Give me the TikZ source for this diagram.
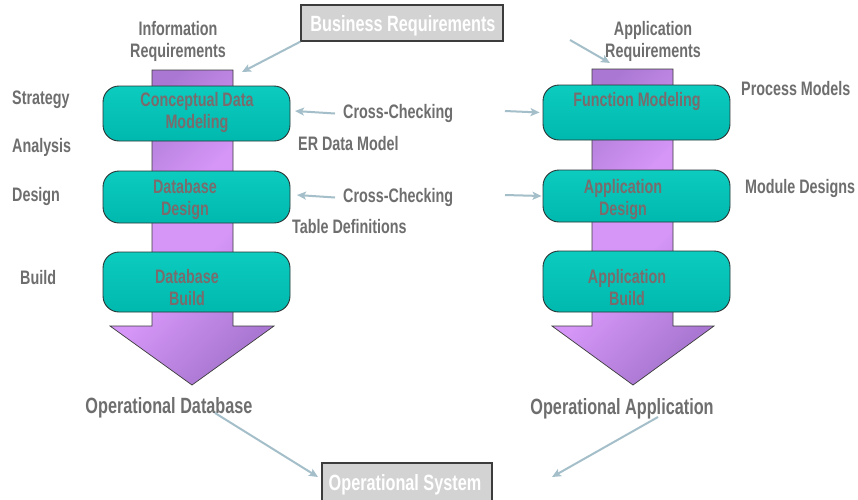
\documentclass[tikz,border=0pt]{standalone}
\usepackage{fontspec}
\setmainfont{Liberation Sans}[FakeStretch=0.735]
\usetikzlibrary{arrows.meta}
\definecolor{labelgray}{HTML}{6E6E6E}
\definecolor{boxtext}{HTML}{7A6C6C}
\definecolor{teal1}{HTML}{0CCBBF}
\definecolor{teal2}{HTML}{00B9AE}
\definecolor{boxborder}{HTML}{2A3434}
\definecolor{conncol}{HTML}{A4BFC9}
\definecolor{grayfill}{HTML}{D3D3D3}
\definecolor{graybord}{HTML}{3C3C3C}
\definecolor{purpdark}{HTML}{AA78D2}
\definecolor{purplight}{HTML}{D596F7}
\pgfdeclarehorizontalshading{purplediag}{100bp}{color(0bp)=(purpdark); color(25bp)=(purpdark); color(44bp)=(purplight); color(56bp)=(purplight); color(75bp)=(purpdark); color(100bp)=(purpdark)}
\begin{document}
\begin{tikzpicture}[x=1pt,y=-1pt,
  lbl/.style={font=\fontsize{19.5}{22}\selectfont\bfseries, text=labelgray, inner sep=0pt, align=center},
  boxtxt/.style={lbl, text=boxtext},
  bigtxt/.style={font=\fontsize{22.1}{24}\selectfont\bfseries, text=labelgray, inner sep=0pt},
  stagebox/.style={draw=boxborder, line width=0.9pt, rounded corners=16pt, top color=teal1, bottom color=teal2, minimum width=187pt, inner sep=0pt},
  graybox/.style={draw=graybord, fill=grayfill, line width=1.3pt, text=white, font=\fontsize{22.1}{24}\selectfont\bfseries, inner sep=0pt},
  conn/.style={draw=conncol, line width=2pt, -{Stealth[length=9pt,width=8pt,inset=2pt]}},
  bigarrow/.style={draw=graybord, line width=0.7pt, shading=purplediag, shading angle=-45}
]
\useasboundingbox (0,0) rectangle (858,499);
\fill[white] (0,0) rectangle (858,499);

% big process arrows
\path[bigarrow] (152,70) -- (233,70) -- (233,326) -- (274,326) -- (192,385) -- (110,326) -- (152,326) -- cycle;
\path[bigarrow] (592,69) -- (673,69) -- (673,326) -- (714,326) -- (633,385) -- (552,326) -- (592,326) -- cycle;

% stage boxes
\node[stagebox, minimum height=55pt] (L1) at (196.5,113.5) {};
\node[stagebox, minimum height=52pt] (L2) at (196.5,197) {};
\node[stagebox, minimum height=60pt] (L3) at (196.5,282) {};
\node[stagebox, minimum height=55pt] (R1) at (636.5,112.5) {};
\node[stagebox, minimum height=52pt] (R2) at (636.5,196) {};
\node[stagebox, minimum height=61pt] (R3) at (636.5,281.5) {};

\node[boxtxt] (L1t) at (197,112.5) {Conceptual Data\\Modeling};
\node[boxtxt] (L2t) at (185,199.5) {Database\\Design};
\node[boxtxt] (L3t) at (187,288) {Database\\Build};
\node[boxtxt] (R1t) at (637,101.5) {Function Modeling};
\node[boxtxt] (R2t) at (623,199.5) {Application\\Design};
\node[boxtxt] (R3t) at (627,288) {Application\\Build};

% gray boxes
\node[graybox, minimum width=202pt, minimum height=36pt] (br) at (402,23) {};
\node[text=white, font=\fontsize{22.1}{24}\selectfont\bfseries, inner sep=0pt] (brt) at (403,25.5) {Business Requirements};
\node[graybox, minimum width=170pt, minimum height=40pt] (os) at (407,483) {};
\node[text=white, font=\fontsize{22.1}{24}\selectfont\bfseries, inner sep=0pt] (ost) at (405,484.5) {Operational System};

% labels
\node[lbl] (inforeq) at (178,41.5) {Information\\Requirements};
\node[lbl] (appreq) at (653,41.5) {Application\\Requirements};
\node[lbl, anchor=west] (strat) at (12,99.5) {Strategy};
\node[lbl, anchor=west] (anal) at (12,147.5) {Analysis};
\node[lbl, anchor=west] (desg) at (12,196.5) {Design};
\node[lbl, anchor=west] (bld) at (20,277.5) {Build};
\node[lbl, anchor=west] (cc1) at (343,113.5) {Cross-Checking};
\node[lbl, anchor=west] (cc2) at (343,197.5) {Cross-Checking};
\node[lbl, anchor=west] (erdm) at (298,143.5) {ER Data Model};
\node[lbl, anchor=west] (tdef) at (292,226.5) {Table Definitions};
\node[lbl, anchor=west] (pm) at (741,88.5) {Process Models};
\node[lbl, anchor=west] (md) at (745,188.5) {Module Designs};
\node[bigtxt] (opdb) at (169,407.5) {Operational Database};
\node[bigtxt] (opapp) at (622,408.5) {Operational Application};

% connectors
\coordinate (brend) at (242,72);
\coordinate (arstart) at (570,40);
\coordinate (arend) at (610,63);
\coordinate (L1in) at (295,111);
\coordinate (L2in) at (297,195);
\coordinate (R1out) at (505,111);
\coordinate (R2out) at (505,195);
\coordinate (osl) at (318,477);
\coordinate (osr) at (552,477);
\coordinate (opdbs) at (215,413);
\coordinate (opapps) at (658,417);

\draw[conn] (br.south west) -- (brend);
\draw[conn] (arstart) -- (arend);
\draw[conn] ([xshift=-8pt]cc1.west) -- (L1in);
\draw[conn] ([xshift=-8pt]cc2.west) -- (L2in);
\draw[conn] (R1out) -- ([xshift=-3pt]R1.west);
\draw[conn] (R2out) -- ([xshift=-1pt]R2.west);
\draw[conn] (opdbs) -- (osl);
\draw[conn] (opapps) -- (osr);
\end{tikzpicture}
\end{document}
